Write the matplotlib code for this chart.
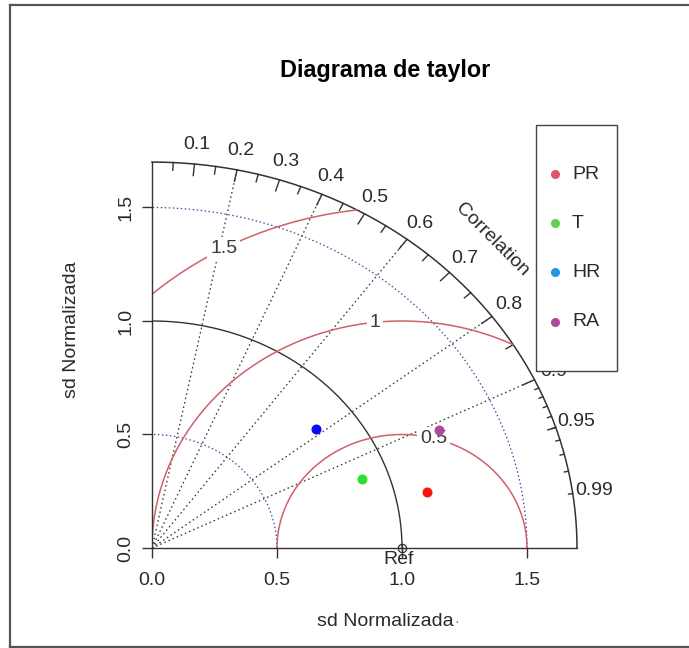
import numpy as np
import matplotlib
matplotlib.use("Agg")
import matplotlib.pyplot as plt
from matplotlib.patches import Rectangle
from matplotlib.lines import Line2D

plt.rcParams['font.family'] = ['Liberation Sans', 'DejaVu Sans']
plt.rcParams['font.size'] = 14

# ---- model statistics (normalised standard deviation and correlation) ----
models = ["PR", "T", "HR", "RA"]
sd_norm = [1.129, 0.894, 0.840, 1.258]
correlation = [0.976, 0.941, 0.781, 0.911]
point_colors = ["#FF1010", "#2EE02E", "#0A0AF0", "#B0479E"]
legend_colors = ["#DF536B", "#61D04F", "#2297E6", "#B0479E"]

# ---- diagram furniture ----
ref_sd = 1.0
max_sd = 1.7
sd_ticks = [0.0, 0.5, 1.0, 1.5]
sd_tick_labels = ["0.0", "0.5", "1.0", "1.5"]
sd_arcs = [0.5, 1.5]
rms_levels = [0.5, 1.0, 1.5]
rms_label_text = ["0.5", "1", "1.5"]
rms_label_angles = [75.3, 96.2, 118.4]          # degrees around the reference point
corr_lines = [0.2, 0.4, 0.6, 0.8, 0.9]
corr_big = [0.1, 0.2, 0.3, 0.4, 0.5, 0.6, 0.7, 0.8, 0.9]
corr_med = [0.05, 0.15, 0.25, 0.35, 0.45, 0.55, 0.65, 0.75, 0.85, 0.95]
corr_small = [0.91, 0.92, 0.93, 0.94, 0.95, 0.96, 0.97, 0.98, 0.99]
corr_labels = [0.1, 0.2, 0.3, 0.4, 0.5, 0.6, 0.7, 0.8, 0.9, 0.95, 0.99]

W, H = 689, 648
fig = plt.figure(figsize=(W / 100, H / 100), dpi=100)


def fx(px):
    return px / W


def fy(py):
    return 1 - py / H


# plot region (pixels)
left, right, bottom, top = 152, 619.5, 548, 123.5
ax = fig.add_axes([fx(left), fy(bottom), fx(right - left), (bottom - top) / H])
ax.set_xlim(0, max_sd * 1.1)
ax.set_ylim(0, max_sd * 1.1)
ax.set_facecolor("none")

txt_col = "#2a2a2a"
line_col = "#333333"
gamma_col = "#D0606A"
arc_col = "#4848A0"

for s in ["top", "right"]:
    ax.spines[s].set_visible(False)
for s in ["left", "bottom"]:
    ax.spines[s].set_bounds(0, max_sd)
    ax.spines[s].set_color(line_col)
    ax.spines[s].set_linewidth(1.0)

ax.set_xticks(sd_ticks, labels=sd_tick_labels)
ax.set_yticks(sd_ticks, labels=sd_tick_labels)
ax.tick_params(axis="both", direction="out", length=7.5, width=1.0,
               color=line_col, labelcolor=txt_col, labelsize=14)
ax.tick_params(axis="x", pad=9.5)
ax.tick_params(axis="y", pad=5, labelrotation=90)
for lab in ax.get_yticklabels():
    lab.set_va("center")

# outer correlation arc
th = np.linspace(0, np.pi / 2, 400)
ax.plot(max_sd * np.cos(th), max_sd * np.sin(th), color=line_col, lw=1.1,
        clip_on=False, zorder=2)

# reference standard deviation arc
ax.plot(ref_sd * np.cos(th), ref_sd * np.sin(th), color=line_col, lw=1.0, zorder=2)

# dotted standard deviation arcs
for r in sd_arcs:
    ax.plot(r * np.cos(th), r * np.sin(th), color=arc_col, lw=0.9,
            linestyle=(0, (1.2, 2.0)), zorder=2)

# dotted correlation rays
for c in corr_lines:
    a = np.arccos(c)
    ax.plot([0, max_sd * np.cos(a)], [0, max_sd * np.sin(a)], color="#3a3a3a",
            lw=0.95, linestyle=(0, (1.2, 2.2)), zorder=2)

# correlation ticks on the outer arc
for vals, frac in [(corr_big, 0.97), (corr_med, 0.98), (corr_small, 0.99)]:
    for c in vals:
        a = np.arccos(c)
        ax.plot([max_sd * np.cos(a), frac * max_sd * np.cos(a)],
                [max_sd * np.sin(a), frac * max_sd * np.sin(a)],
                color=line_col, lw=1.0, clip_on=False, zorder=2)

for c in corr_labels:
    a = np.arccos(c)
    ax.text(1.05 * max_sd * np.cos(a), 1.05 * max_sd * np.sin(a), f"{c:g}",
            ha="center", va="center", color=txt_col, fontsize=14, clip_on=False)

ax.text(0.8 * max_sd, 0.8 * max_sd, "Correlation", rotation=-45,
        ha="center", va="center", color=txt_col, fontsize=14,
        rotation_mode="anchor")

# centred RMS difference arcs around the reference point
tt = np.linspace(0, np.pi, 1200)
for r, lab, ang in zip(rms_levels, rms_label_text, rms_label_angles):
    xs = ref_sd + r * np.cos(tt)
    ys = r * np.sin(tt)
    keep = (xs >= -1e-9) & (xs ** 2 + ys ** 2 <= max_sd ** 2)
    ax.plot(xs[keep], ys[keep], color=gamma_col, lw=1.1, zorder=2)
    a = np.radians(ang)
    ax.text(ref_sd + r * np.cos(a), r * np.sin(a), lab, ha="center", va="center",
            color="#3a3a3a", fontsize=14, zorder=3,
            bbox=dict(boxstyle="square,pad=0.15", fc="white", ec="none"))

# model points
sd_arr = np.array(sd_norm)
cor_arr = np.array(correlation)
px = sd_arr * cor_arr
py = sd_arr * np.sqrt(1 - cor_arr ** 2)
for x, y, col in zip(px, py, point_colors):
    ax.plot(x, y, "o", color=col, ms=6.2, mec=col, zorder=5)

# reference point
ax.plot(ref_sd, 0, "o", mfc="none", mec="#333333", ms=6, mew=0.9, clip_on=False, zorder=5)
ax.plot(ref_sd, 0, "+", color="#333333", ms=6, mew=0.9, clip_on=False, zorder=5)
ax.annotate("Ref", (ref_sd, 0), xytext=(-3, -12), textcoords="offset pixels",
            ha="center", va="center", fontsize=14, color=txt_col)

# titles
fig.text(fx(385.5), fy(70), "Diagrama de taylor", ha="center", va="center",
         fontsize=16.8, fontweight="bold", color="black")
fig.text(fx(385), fy(621), "sd Normalizada", ha="center", va="center",
         fontsize=14, color=txt_col)
fig.text(fx(457), fy(622), "·", ha="center", va="center", fontsize=10, color="#777777")
fig.text(fx(72), fy(330), "sd Normalizada", ha="center", va="center",
         rotation=90, fontsize=14, color=txt_col)

# legend box
box_l, box_r, box_t, box_b = 535.7, 616.7, 125, 371
fig.add_artist(Rectangle((fx(box_l), fy(box_b)), fx(box_r - box_l), (box_b - box_t) / H,
                         transform=fig.transFigure, fc="white", ec="#444444",
                         lw=1.0, zorder=5))
for i, (name, col) in enumerate(zip(models, legend_colors)):
    yy = 174 + i * 49.2
    fig.add_artist(Line2D([fx(555)], [fy(yy)], marker="o", color=col, ms=5.5,
                          transform=fig.transFigure, zorder=6))
    fig.text(fx(572), fy(yy), name, ha="left", va="center", fontsize=14,
             color=txt_col, zorder=6)

# outer frame
frame_col = "#555555"
fig.add_artist(Line2D([fx(9.5), fx(9.5)], [fy(5), fy(646.5)], color=frame_col,
                      lw=1.6, transform=fig.transFigure))
fig.add_artist(Line2D([fx(9.5), fx(689)], [fy(5), fy(5)], color=frame_col,
                      lw=1.6, transform=fig.transFigure))
fig.add_artist(Line2D([fx(9.5), fx(689)], [fy(646.5), fy(646.5)], color=frame_col,
                      lw=1.6, transform=fig.transFigure))

fig.savefig("out.png", dpi=100, facecolor="white")
